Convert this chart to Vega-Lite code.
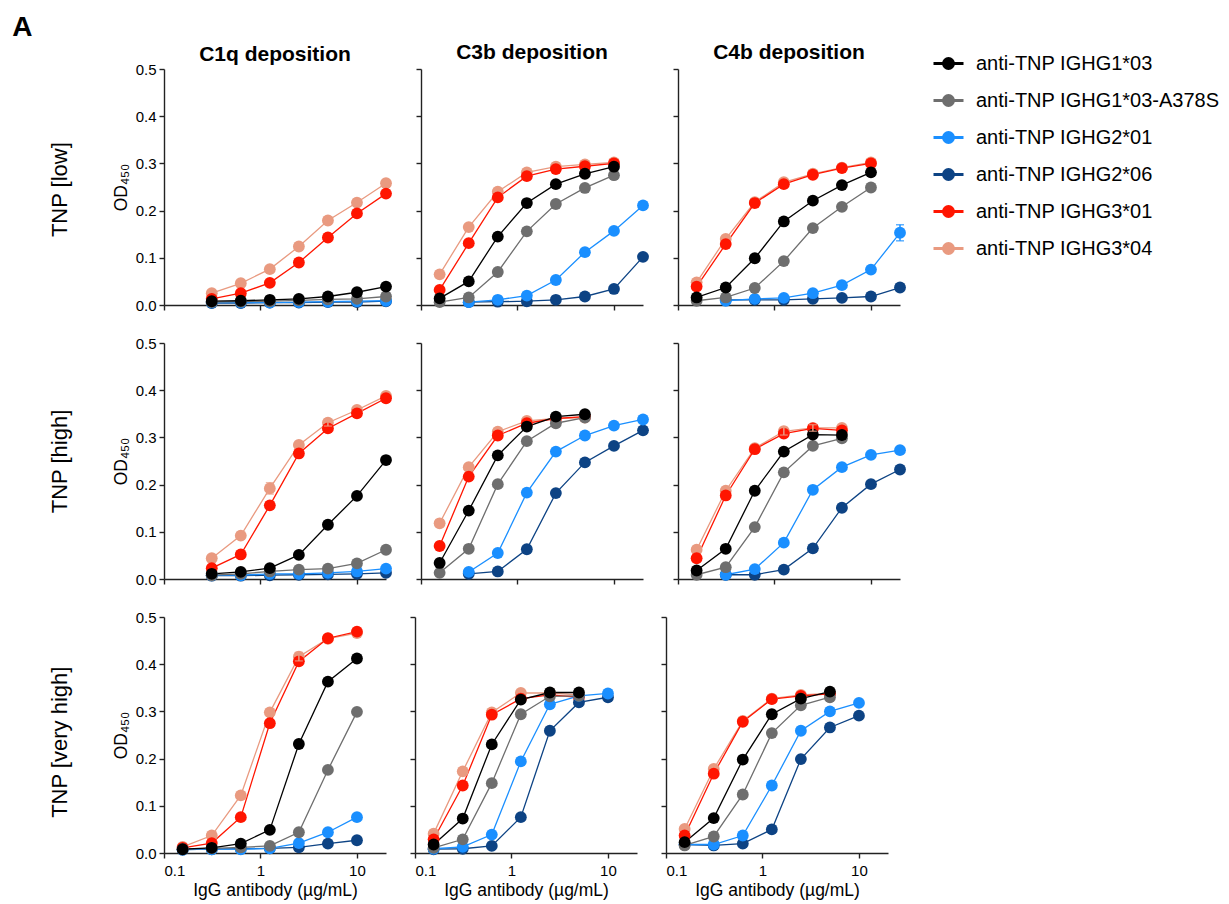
{
"$schema": "https://vega.github.io/schema/vega-lite/v6.json",
"padding": {"left": 12, "top": 14, "right": 5, "bottom": 5},
"title": {"text": "A", "anchor": "start", "frame": "bounds", "fontSize": 28, "fontWeight": "bold", "dx": -37, "offset": 0},
"config": {
  "font": "Liberation Sans",
  "view": {"stroke": null},
  "axis": {"grid": false, "domainColor": "#222222", "tickColor": "#222222", "domainWidth": 1.4, "tickWidth": 1.4, "tickSize": 5, "labelColor": "#000000", "titleColor": "#000000", "labelFontSize": 15, "titleFontSize": 17.5, "titleFontWeight": "normal", "labelPadding": 3},
  "legend": {"symbolType": "M-1,0H1M-0.33,0A0.33,0.33,0,1,1,0.33,0A0.33,0.33,0,1,1,-0.33,0Z", "symbolSize": 900, "symbolStrokeWidth": 3, "labelFontSize": 20, "labelColor": "#000000", "labelLimit": 400, "rowPadding": 9, "labelOffset": 11, "padding": 0}
},
"data": {"values": [
{"tnp":"low","assay":"C1q","antibody":"anti-TNP IGHG3*04","conc":0.3125,"od":0.025},
{"tnp":"low","assay":"C1q","antibody":"anti-TNP IGHG3*04","conc":0.625,"od":0.046},
{"tnp":"low","assay":"C1q","antibody":"anti-TNP IGHG3*04","conc":1.25,"od":0.076},
{"tnp":"low","assay":"C1q","antibody":"anti-TNP IGHG3*04","conc":2.5,"od":0.124},
{"tnp":"low","assay":"C1q","antibody":"anti-TNP IGHG3*04","conc":5,"od":0.179,"sd":0.008},
{"tnp":"low","assay":"C1q","antibody":"anti-TNP IGHG3*04","conc":10,"od":0.217,"sd":0.007},
{"tnp":"low","assay":"C1q","antibody":"anti-TNP IGHG3*04","conc":20,"od":0.258},
{"tnp":"low","assay":"C1q","antibody":"anti-TNP IGHG3*01","conc":0.3125,"od":0.013},
{"tnp":"low","assay":"C1q","antibody":"anti-TNP IGHG3*01","conc":0.625,"od":0.025},
{"tnp":"low","assay":"C1q","antibody":"anti-TNP IGHG3*01","conc":1.25,"od":0.047},
{"tnp":"low","assay":"C1q","antibody":"anti-TNP IGHG3*01","conc":2.5,"od":0.090},
{"tnp":"low","assay":"C1q","antibody":"anti-TNP IGHG3*01","conc":5,"od":0.143},
{"tnp":"low","assay":"C1q","antibody":"anti-TNP IGHG3*01","conc":10,"od":0.194},
{"tnp":"low","assay":"C1q","antibody":"anti-TNP IGHG3*01","conc":20,"od":0.236},
{"tnp":"low","assay":"C1q","antibody":"anti-TNP IGHG2*06","conc":0.3125,"od":0.004},
{"tnp":"low","assay":"C1q","antibody":"anti-TNP IGHG2*06","conc":0.625,"od":0.004},
{"tnp":"low","assay":"C1q","antibody":"anti-TNP IGHG2*06","conc":1.25,"od":0.005},
{"tnp":"low","assay":"C1q","antibody":"anti-TNP IGHG2*06","conc":2.5,"od":0.005},
{"tnp":"low","assay":"C1q","antibody":"anti-TNP IGHG2*06","conc":5,"od":0.006},
{"tnp":"low","assay":"C1q","antibody":"anti-TNP IGHG2*06","conc":10,"od":0.006},
{"tnp":"low","assay":"C1q","antibody":"anti-TNP IGHG2*06","conc":20,"od":0.008},
{"tnp":"low","assay":"C1q","antibody":"anti-TNP IGHG2*01","conc":0.3125,"od":0.005},
{"tnp":"low","assay":"C1q","antibody":"anti-TNP IGHG2*01","conc":0.625,"od":0.005},
{"tnp":"low","assay":"C1q","antibody":"anti-TNP IGHG2*01","conc":1.25,"od":0.005},
{"tnp":"low","assay":"C1q","antibody":"anti-TNP IGHG2*01","conc":2.5,"od":0.006},
{"tnp":"low","assay":"C1q","antibody":"anti-TNP IGHG2*01","conc":5,"od":0.007},
{"tnp":"low","assay":"C1q","antibody":"anti-TNP IGHG2*01","conc":10,"od":0.008},
{"tnp":"low","assay":"C1q","antibody":"anti-TNP IGHG2*01","conc":20,"od":0.009},
{"tnp":"low","assay":"C1q","antibody":"anti-TNP IGHG1*03-A378S","conc":0.3125,"od":0.006},
{"tnp":"low","assay":"C1q","antibody":"anti-TNP IGHG1*03-A378S","conc":0.625,"od":0.007},
{"tnp":"low","assay":"C1q","antibody":"anti-TNP IGHG1*03-A378S","conc":1.25,"od":0.008},
{"tnp":"low","assay":"C1q","antibody":"anti-TNP IGHG1*03-A378S","conc":2.5,"od":0.010},
{"tnp":"low","assay":"C1q","antibody":"anti-TNP IGHG1*03-A378S","conc":5,"od":0.012},
{"tnp":"low","assay":"C1q","antibody":"anti-TNP IGHG1*03-A378S","conc":10,"od":0.013},
{"tnp":"low","assay":"C1q","antibody":"anti-TNP IGHG1*03-A378S","conc":20,"od":0.018},
{"tnp":"low","assay":"C1q","antibody":"anti-TNP IGHG1*03","conc":0.3125,"od":0.008},
{"tnp":"low","assay":"C1q","antibody":"anti-TNP IGHG1*03","conc":0.625,"od":0.009},
{"tnp":"low","assay":"C1q","antibody":"anti-TNP IGHG1*03","conc":1.25,"od":0.011},
{"tnp":"low","assay":"C1q","antibody":"anti-TNP IGHG1*03","conc":2.5,"od":0.013},
{"tnp":"low","assay":"C1q","antibody":"anti-TNP IGHG1*03","conc":5,"od":0.018},
{"tnp":"low","assay":"C1q","antibody":"anti-TNP IGHG1*03","conc":10,"od":0.027},
{"tnp":"low","assay":"C1q","antibody":"anti-TNP IGHG1*03","conc":20,"od":0.039},

{"tnp":"low","assay":"C3b","antibody":"anti-TNP IGHG3*04","conc":0.156,"od":0.065},
{"tnp":"low","assay":"C3b","antibody":"anti-TNP IGHG3*04","conc":0.3125,"od":0.165},
{"tnp":"low","assay":"C3b","antibody":"anti-TNP IGHG3*04","conc":0.625,"od":0.240},
{"tnp":"low","assay":"C3b","antibody":"anti-TNP IGHG3*04","conc":1.25,"od":0.281},
{"tnp":"low","assay":"C3b","antibody":"anti-TNP IGHG3*04","conc":2.5,"od":0.293},
{"tnp":"low","assay":"C3b","antibody":"anti-TNP IGHG3*04","conc":5,"od":0.298},
{"tnp":"low","assay":"C3b","antibody":"anti-TNP IGHG3*04","conc":10,"od":0.302},
{"tnp":"low","assay":"C3b","antibody":"anti-TNP IGHG3*01","conc":0.156,"od":0.032},
{"tnp":"low","assay":"C3b","antibody":"anti-TNP IGHG3*01","conc":0.3125,"od":0.131},
{"tnp":"low","assay":"C3b","antibody":"anti-TNP IGHG3*01","conc":0.625,"od":0.228},
{"tnp":"low","assay":"C3b","antibody":"anti-TNP IGHG3*01","conc":1.25,"od":0.273},
{"tnp":"low","assay":"C3b","antibody":"anti-TNP IGHG3*01","conc":2.5,"od":0.288},
{"tnp":"low","assay":"C3b","antibody":"anti-TNP IGHG3*01","conc":5,"od":0.294},
{"tnp":"low","assay":"C3b","antibody":"anti-TNP IGHG3*01","conc":10,"od":0.300},
{"tnp":"low","assay":"C3b","antibody":"anti-TNP IGHG2*06","conc":0.3125,"od":0.006},
{"tnp":"low","assay":"C3b","antibody":"anti-TNP IGHG2*06","conc":0.625,"od":0.007},
{"tnp":"low","assay":"C3b","antibody":"anti-TNP IGHG2*06","conc":1.25,"od":0.008},
{"tnp":"low","assay":"C3b","antibody":"anti-TNP IGHG2*06","conc":2.5,"od":0.011},
{"tnp":"low","assay":"C3b","antibody":"anti-TNP IGHG2*06","conc":5,"od":0.018},
{"tnp":"low","assay":"C3b","antibody":"anti-TNP IGHG2*06","conc":10,"od":0.034},
{"tnp":"low","assay":"C3b","antibody":"anti-TNP IGHG2*06","conc":20,"od":0.102},
{"tnp":"low","assay":"C3b","antibody":"anti-TNP IGHG2*01","conc":0.3125,"od":0.006},
{"tnp":"low","assay":"C3b","antibody":"anti-TNP IGHG2*01","conc":0.625,"od":0.011},
{"tnp":"low","assay":"C3b","antibody":"anti-TNP IGHG2*01","conc":1.25,"od":0.020},
{"tnp":"low","assay":"C3b","antibody":"anti-TNP IGHG2*01","conc":2.5,"od":0.053},
{"tnp":"low","assay":"C3b","antibody":"anti-TNP IGHG2*01","conc":5,"od":0.112},
{"tnp":"low","assay":"C3b","antibody":"anti-TNP IGHG2*01","conc":10,"od":0.157},
{"tnp":"low","assay":"C3b","antibody":"anti-TNP IGHG2*01","conc":20,"od":0.211},
{"tnp":"low","assay":"C3b","antibody":"anti-TNP IGHG1*03-A378S","conc":0.156,"od":0.006},
{"tnp":"low","assay":"C3b","antibody":"anti-TNP IGHG1*03-A378S","conc":0.3125,"od":0.016},
{"tnp":"low","assay":"C3b","antibody":"anti-TNP IGHG1*03-A378S","conc":0.625,"od":0.070},
{"tnp":"low","assay":"C3b","antibody":"anti-TNP IGHG1*03-A378S","conc":1.25,"od":0.156},
{"tnp":"low","assay":"C3b","antibody":"anti-TNP IGHG1*03-A378S","conc":2.5,"od":0.214},
{"tnp":"low","assay":"C3b","antibody":"anti-TNP IGHG1*03-A378S","conc":5,"od":0.248},
{"tnp":"low","assay":"C3b","antibody":"anti-TNP IGHG1*03-A378S","conc":10,"od":0.275},
{"tnp":"low","assay":"C3b","antibody":"anti-TNP IGHG1*03","conc":0.156,"od":0.014},
{"tnp":"low","assay":"C3b","antibody":"anti-TNP IGHG1*03","conc":0.3125,"od":0.050},
{"tnp":"low","assay":"C3b","antibody":"anti-TNP IGHG1*03","conc":0.625,"od":0.145},
{"tnp":"low","assay":"C3b","antibody":"anti-TNP IGHG1*03","conc":1.25,"od":0.216},
{"tnp":"low","assay":"C3b","antibody":"anti-TNP IGHG1*03","conc":2.5,"od":0.256},
{"tnp":"low","assay":"C3b","antibody":"anti-TNP IGHG1*03","conc":5,"od":0.278},
{"tnp":"low","assay":"C3b","antibody":"anti-TNP IGHG1*03","conc":10,"od":0.293},

{"tnp":"low","assay":"C4b","antibody":"anti-TNP IGHG3*04","conc":0.156,"od":0.048},
{"tnp":"low","assay":"C4b","antibody":"anti-TNP IGHG3*04","conc":0.3125,"od":0.140},
{"tnp":"low","assay":"C4b","antibody":"anti-TNP IGHG3*04","conc":0.625,"od":0.218},
{"tnp":"low","assay":"C4b","antibody":"anti-TNP IGHG3*04","conc":1.25,"od":0.260},
{"tnp":"low","assay":"C4b","antibody":"anti-TNP IGHG3*04","conc":2.5,"od":0.278},
{"tnp":"low","assay":"C4b","antibody":"anti-TNP IGHG3*04","conc":5,"od":0.291},
{"tnp":"low","assay":"C4b","antibody":"anti-TNP IGHG3*04","conc":10,"od":0.302},
{"tnp":"low","assay":"C4b","antibody":"anti-TNP IGHG3*01","conc":0.156,"od":0.039},
{"tnp":"low","assay":"C4b","antibody":"anti-TNP IGHG3*01","conc":0.3125,"od":0.129},
{"tnp":"low","assay":"C4b","antibody":"anti-TNP IGHG3*01","conc":0.625,"od":0.216},
{"tnp":"low","assay":"C4b","antibody":"anti-TNP IGHG3*01","conc":1.25,"od":0.256},
{"tnp":"low","assay":"C4b","antibody":"anti-TNP IGHG3*01","conc":2.5,"od":0.276},
{"tnp":"low","assay":"C4b","antibody":"anti-TNP IGHG3*01","conc":5,"od":0.290},
{"tnp":"low","assay":"C4b","antibody":"anti-TNP IGHG3*01","conc":10,"od":0.300},
{"tnp":"low","assay":"C4b","antibody":"anti-TNP IGHG2*06","conc":0.3125,"od":0.011},
{"tnp":"low","assay":"C4b","antibody":"anti-TNP IGHG2*06","conc":0.625,"od":0.011},
{"tnp":"low","assay":"C4b","antibody":"anti-TNP IGHG2*06","conc":1.25,"od":0.011},
{"tnp":"low","assay":"C4b","antibody":"anti-TNP IGHG2*06","conc":2.5,"od":0.013},
{"tnp":"low","assay":"C4b","antibody":"anti-TNP IGHG2*06","conc":5,"od":0.015},
{"tnp":"low","assay":"C4b","antibody":"anti-TNP IGHG2*06","conc":10,"od":0.018},
{"tnp":"low","assay":"C4b","antibody":"anti-TNP IGHG2*06","conc":20,"od":0.037},
{"tnp":"low","assay":"C4b","antibody":"anti-TNP IGHG2*01","conc":0.3125,"od":0.009},
{"tnp":"low","assay":"C4b","antibody":"anti-TNP IGHG2*01","conc":0.625,"od":0.013},
{"tnp":"low","assay":"C4b","antibody":"anti-TNP IGHG2*01","conc":1.25,"od":0.015},
{"tnp":"low","assay":"C4b","antibody":"anti-TNP IGHG2*01","conc":2.5,"od":0.025},
{"tnp":"low","assay":"C4b","antibody":"anti-TNP IGHG2*01","conc":5,"od":0.042},
{"tnp":"low","assay":"C4b","antibody":"anti-TNP IGHG2*01","conc":10,"od":0.075},
{"tnp":"low","assay":"C4b","antibody":"anti-TNP IGHG2*01","conc":20,"od":0.153,"sd":0.017},
{"tnp":"low","assay":"C4b","antibody":"anti-TNP IGHG1*03-A378S","conc":0.156,"od":0.009},
{"tnp":"low","assay":"C4b","antibody":"anti-TNP IGHG1*03-A378S","conc":0.3125,"od":0.016},
{"tnp":"low","assay":"C4b","antibody":"anti-TNP IGHG1*03-A378S","conc":0.625,"od":0.036},
{"tnp":"low","assay":"C4b","antibody":"anti-TNP IGHG1*03-A378S","conc":1.25,"od":0.093},
{"tnp":"low","assay":"C4b","antibody":"anti-TNP IGHG1*03-A378S","conc":2.5,"od":0.163},
{"tnp":"low","assay":"C4b","antibody":"anti-TNP IGHG1*03-A378S","conc":5,"od":0.208},
{"tnp":"low","assay":"C4b","antibody":"anti-TNP IGHG1*03-A378S","conc":10,"od":0.249},
{"tnp":"low","assay":"C4b","antibody":"anti-TNP IGHG1*03","conc":0.156,"od":0.016},
{"tnp":"low","assay":"C4b","antibody":"anti-TNP IGHG1*03","conc":0.3125,"od":0.037},
{"tnp":"low","assay":"C4b","antibody":"anti-TNP IGHG1*03","conc":0.625,"od":0.099},
{"tnp":"low","assay":"C4b","antibody":"anti-TNP IGHG1*03","conc":1.25,"od":0.177},
{"tnp":"low","assay":"C4b","antibody":"anti-TNP IGHG1*03","conc":2.5,"od":0.221},
{"tnp":"low","assay":"C4b","antibody":"anti-TNP IGHG1*03","conc":5,"od":0.254},
{"tnp":"low","assay":"C4b","antibody":"anti-TNP IGHG1*03","conc":10,"od":0.281},

{"tnp":"high","assay":"C1q","antibody":"anti-TNP IGHG3*04","conc":0.3125,"od":0.044},
{"tnp":"high","assay":"C1q","antibody":"anti-TNP IGHG3*04","conc":0.625,"od":0.092},
{"tnp":"high","assay":"C1q","antibody":"anti-TNP IGHG3*04","conc":1.25,"od":0.192,"sd":0.012},
{"tnp":"high","assay":"C1q","antibody":"anti-TNP IGHG3*04","conc":2.5,"od":0.284},
{"tnp":"high","assay":"C1q","antibody":"anti-TNP IGHG3*04","conc":5,"od":0.331,"sd":0.007},
{"tnp":"high","assay":"C1q","antibody":"anti-TNP IGHG3*04","conc":10,"od":0.358},
{"tnp":"high","assay":"C1q","antibody":"anti-TNP IGHG3*04","conc":20,"od":0.388},
{"tnp":"high","assay":"C1q","antibody":"anti-TNP IGHG3*01","conc":0.3125,"od":0.023},
{"tnp":"high","assay":"C1q","antibody":"anti-TNP IGHG3*01","conc":0.625,"od":0.052},
{"tnp":"high","assay":"C1q","antibody":"anti-TNP IGHG3*01","conc":1.25,"od":0.156},
{"tnp":"high","assay":"C1q","antibody":"anti-TNP IGHG3*01","conc":2.5,"od":0.266},
{"tnp":"high","assay":"C1q","antibody":"anti-TNP IGHG3*01","conc":5,"od":0.319},
{"tnp":"high","assay":"C1q","antibody":"anti-TNP IGHG3*01","conc":10,"od":0.351},
{"tnp":"high","assay":"C1q","antibody":"anti-TNP IGHG3*01","conc":20,"od":0.383},
{"tnp":"high","assay":"C1q","antibody":"anti-TNP IGHG2*06","conc":0.3125,"od":0.007},
{"tnp":"high","assay":"C1q","antibody":"anti-TNP IGHG2*06","conc":0.625,"od":0.007},
{"tnp":"high","assay":"C1q","antibody":"anti-TNP IGHG2*06","conc":1.25,"od":0.008},
{"tnp":"high","assay":"C1q","antibody":"anti-TNP IGHG2*06","conc":2.5,"od":0.009},
{"tnp":"high","assay":"C1q","antibody":"anti-TNP IGHG2*06","conc":5,"od":0.010},
{"tnp":"high","assay":"C1q","antibody":"anti-TNP IGHG2*06","conc":10,"od":0.011},
{"tnp":"high","assay":"C1q","antibody":"anti-TNP IGHG2*06","conc":20,"od":0.013},
{"tnp":"high","assay":"C1q","antibody":"anti-TNP IGHG2*01","conc":0.3125,"od":0.008},
{"tnp":"high","assay":"C1q","antibody":"anti-TNP IGHG2*01","conc":0.625,"od":0.008},
{"tnp":"high","assay":"C1q","antibody":"anti-TNP IGHG2*01","conc":1.25,"od":0.011},
{"tnp":"high","assay":"C1q","antibody":"anti-TNP IGHG2*01","conc":2.5,"od":0.011},
{"tnp":"high","assay":"C1q","antibody":"anti-TNP IGHG2*01","conc":5,"od":0.013},
{"tnp":"high","assay":"C1q","antibody":"anti-TNP IGHG2*01","conc":10,"od":0.016},
{"tnp":"high","assay":"C1q","antibody":"anti-TNP IGHG2*01","conc":20,"od":0.022},
{"tnp":"high","assay":"C1q","antibody":"anti-TNP IGHG1*03-A378S","conc":0.3125,"od":0.008},
{"tnp":"high","assay":"C1q","antibody":"anti-TNP IGHG1*03-A378S","conc":0.625,"od":0.011},
{"tnp":"high","assay":"C1q","antibody":"anti-TNP IGHG1*03-A378S","conc":1.25,"od":0.016},
{"tnp":"high","assay":"C1q","antibody":"anti-TNP IGHG1*03-A378S","conc":2.5,"od":0.020},
{"tnp":"high","assay":"C1q","antibody":"anti-TNP IGHG1*03-A378S","conc":5,"od":0.022},
{"tnp":"high","assay":"C1q","antibody":"anti-TNP IGHG1*03-A378S","conc":10,"od":0.033},
{"tnp":"high","assay":"C1q","antibody":"anti-TNP IGHG1*03-A378S","conc":20,"od":0.062},
{"tnp":"high","assay":"C1q","antibody":"anti-TNP IGHG1*03","conc":0.3125,"od":0.011},
{"tnp":"high","assay":"C1q","antibody":"anti-TNP IGHG1*03","conc":0.625,"od":0.015},
{"tnp":"high","assay":"C1q","antibody":"anti-TNP IGHG1*03","conc":1.25,"od":0.023},
{"tnp":"high","assay":"C1q","antibody":"anti-TNP IGHG1*03","conc":2.5,"od":0.051},
{"tnp":"high","assay":"C1q","antibody":"anti-TNP IGHG1*03","conc":5,"od":0.115},
{"tnp":"high","assay":"C1q","antibody":"anti-TNP IGHG1*03","conc":10,"od":0.176},
{"tnp":"high","assay":"C1q","antibody":"anti-TNP IGHG1*03","conc":20,"od":0.252},

{"tnp":"high","assay":"C3b","antibody":"anti-TNP IGHG3*04","conc":0.156,"od":0.118},
{"tnp":"high","assay":"C3b","antibody":"anti-TNP IGHG3*04","conc":0.3125,"od":0.237},
{"tnp":"high","assay":"C3b","antibody":"anti-TNP IGHG3*04","conc":0.625,"od":0.312},
{"tnp":"high","assay":"C3b","antibody":"anti-TNP IGHG3*04","conc":1.25,"od":0.335},
{"tnp":"high","assay":"C3b","antibody":"anti-TNP IGHG3*04","conc":2.5,"od":0.340},
{"tnp":"high","assay":"C3b","antibody":"anti-TNP IGHG3*04","conc":5,"od":0.342},
{"tnp":"high","assay":"C3b","antibody":"anti-TNP IGHG3*01","conc":0.156,"od":0.070},
{"tnp":"high","assay":"C3b","antibody":"anti-TNP IGHG3*01","conc":0.3125,"od":0.217},
{"tnp":"high","assay":"C3b","antibody":"anti-TNP IGHG3*01","conc":0.625,"od":0.304},
{"tnp":"high","assay":"C3b","antibody":"anti-TNP IGHG3*01","conc":1.25,"od":0.330},
{"tnp":"high","assay":"C3b","antibody":"anti-TNP IGHG3*01","conc":2.5,"od":0.340},
{"tnp":"high","assay":"C3b","antibody":"anti-TNP IGHG3*01","conc":5,"od":0.344},
{"tnp":"high","assay":"C3b","antibody":"anti-TNP IGHG2*06","conc":0.3125,"od":0.011},
{"tnp":"high","assay":"C3b","antibody":"anti-TNP IGHG2*06","conc":0.625,"od":0.016},
{"tnp":"high","assay":"C3b","antibody":"anti-TNP IGHG2*06","conc":1.25,"od":0.063},
{"tnp":"high","assay":"C3b","antibody":"anti-TNP IGHG2*06","conc":2.5,"od":0.182},
{"tnp":"high","assay":"C3b","antibody":"anti-TNP IGHG2*06","conc":5,"od":0.247},
{"tnp":"high","assay":"C3b","antibody":"anti-TNP IGHG2*06","conc":10,"od":0.282},
{"tnp":"high","assay":"C3b","antibody":"anti-TNP IGHG2*06","conc":20,"od":0.315},
{"tnp":"high","assay":"C3b","antibody":"anti-TNP IGHG2*01","conc":0.3125,"od":0.015},
{"tnp":"high","assay":"C3b","antibody":"anti-TNP IGHG2*01","conc":0.625,"od":0.055},
{"tnp":"high","assay":"C3b","antibody":"anti-TNP IGHG2*01","conc":1.25,"od":0.183},
{"tnp":"high","assay":"C3b","antibody":"anti-TNP IGHG2*01","conc":2.5,"od":0.270},
{"tnp":"high","assay":"C3b","antibody":"anti-TNP IGHG2*01","conc":5,"od":0.304},
{"tnp":"high","assay":"C3b","antibody":"anti-TNP IGHG2*01","conc":10,"od":0.325},
{"tnp":"high","assay":"C3b","antibody":"anti-TNP IGHG2*01","conc":20,"od":0.338},
{"tnp":"high","assay":"C3b","antibody":"anti-TNP IGHG1*03-A378S","conc":0.156,"od":0.013},
{"tnp":"high","assay":"C3b","antibody":"anti-TNP IGHG1*03-A378S","conc":0.3125,"od":0.064},
{"tnp":"high","assay":"C3b","antibody":"anti-TNP IGHG1*03-A378S","conc":0.625,"od":0.201},
{"tnp":"high","assay":"C3b","antibody":"anti-TNP IGHG1*03-A378S","conc":1.25,"od":0.292},
{"tnp":"high","assay":"C3b","antibody":"anti-TNP IGHG1*03-A378S","conc":2.5,"od":0.330},
{"tnp":"high","assay":"C3b","antibody":"anti-TNP IGHG1*03-A378S","conc":5,"od":0.342},
{"tnp":"high","assay":"C3b","antibody":"anti-TNP IGHG1*03","conc":0.156,"od":0.034},
{"tnp":"high","assay":"C3b","antibody":"anti-TNP IGHG1*03","conc":0.3125,"od":0.145},
{"tnp":"high","assay":"C3b","antibody":"anti-TNP IGHG1*03","conc":0.625,"od":0.262},
{"tnp":"high","assay":"C3b","antibody":"anti-TNP IGHG1*03","conc":1.25,"od":0.323},
{"tnp":"high","assay":"C3b","antibody":"anti-TNP IGHG1*03","conc":2.5,"od":0.344},
{"tnp":"high","assay":"C3b","antibody":"anti-TNP IGHG1*03","conc":5,"od":0.349},

{"tnp":"high","assay":"C4b","antibody":"anti-TNP IGHG3*04","conc":0.156,"od":0.062},
{"tnp":"high","assay":"C4b","antibody":"anti-TNP IGHG3*04","conc":0.3125,"od":0.187},
{"tnp":"high","assay":"C4b","antibody":"anti-TNP IGHG3*04","conc":0.625,"od":0.277},
{"tnp":"high","assay":"C4b","antibody":"anti-TNP IGHG3*04","conc":1.25,"od":0.313,"sd":0.008},
{"tnp":"high","assay":"C4b","antibody":"anti-TNP IGHG3*04","conc":2.5,"od":0.320,"sd":0.007},
{"tnp":"high","assay":"C4b","antibody":"anti-TNP IGHG3*04","conc":5,"od":0.320},
{"tnp":"high","assay":"C4b","antibody":"anti-TNP IGHG3*01","conc":0.156,"od":0.044},
{"tnp":"high","assay":"C4b","antibody":"anti-TNP IGHG3*01","conc":0.3125,"od":0.177},
{"tnp":"high","assay":"C4b","antibody":"anti-TNP IGHG3*01","conc":0.625,"od":0.275},
{"tnp":"high","assay":"C4b","antibody":"anti-TNP IGHG3*01","conc":1.25,"od":0.308},
{"tnp":"high","assay":"C4b","antibody":"anti-TNP IGHG3*01","conc":2.5,"od":0.319},
{"tnp":"high","assay":"C4b","antibody":"anti-TNP IGHG3*01","conc":5,"od":0.315},
{"tnp":"high","assay":"C4b","antibody":"anti-TNP IGHG2*06","conc":0.3125,"od":0.009},
{"tnp":"high","assay":"C4b","antibody":"anti-TNP IGHG2*06","conc":0.625,"od":0.009},
{"tnp":"high","assay":"C4b","antibody":"anti-TNP IGHG2*06","conc":1.25,"od":0.020},
{"tnp":"high","assay":"C4b","antibody":"anti-TNP IGHG2*06","conc":2.5,"od":0.065},
{"tnp":"high","assay":"C4b","antibody":"anti-TNP IGHG2*06","conc":5,"od":0.151},
{"tnp":"high","assay":"C4b","antibody":"anti-TNP IGHG2*06","conc":10,"od":0.201},
{"tnp":"high","assay":"C4b","antibody":"anti-TNP IGHG2*06","conc":20,"od":0.232},
{"tnp":"high","assay":"C4b","antibody":"anti-TNP IGHG2*01","conc":0.3125,"od":0.009},
{"tnp":"high","assay":"C4b","antibody":"anti-TNP IGHG2*01","conc":0.625,"od":0.021},
{"tnp":"high","assay":"C4b","antibody":"anti-TNP IGHG2*01","conc":1.25,"od":0.077},
{"tnp":"high","assay":"C4b","antibody":"anti-TNP IGHG2*01","conc":2.5,"od":0.189},
{"tnp":"high","assay":"C4b","antibody":"anti-TNP IGHG2*01","conc":5,"od":0.237},
{"tnp":"high","assay":"C4b","antibody":"anti-TNP IGHG2*01","conc":10,"od":0.263},
{"tnp":"high","assay":"C4b","antibody":"anti-TNP IGHG2*01","conc":20,"od":0.273},
{"tnp":"high","assay":"C4b","antibody":"anti-TNP IGHG1*03-A378S","conc":0.156,"od":0.009},
{"tnp":"high","assay":"C4b","antibody":"anti-TNP IGHG1*03-A378S","conc":0.3125,"od":0.025},
{"tnp":"high","assay":"C4b","antibody":"anti-TNP IGHG1*03-A378S","conc":0.625,"od":0.110},
{"tnp":"high","assay":"C4b","antibody":"anti-TNP IGHG1*03-A378S","conc":1.25,"od":0.226},
{"tnp":"high","assay":"C4b","antibody":"anti-TNP IGHG1*03-A378S","conc":2.5,"od":0.282},
{"tnp":"high","assay":"C4b","antibody":"anti-TNP IGHG1*03-A378S","conc":5,"od":0.298},
{"tnp":"high","assay":"C4b","antibody":"anti-TNP IGHG1*03","conc":0.156,"od":0.018},
{"tnp":"high","assay":"C4b","antibody":"anti-TNP IGHG1*03","conc":0.3125,"od":0.064},
{"tnp":"high","assay":"C4b","antibody":"anti-TNP IGHG1*03","conc":0.625,"od":0.187},
{"tnp":"high","assay":"C4b","antibody":"anti-TNP IGHG1*03","conc":1.25,"od":0.270},
{"tnp":"high","assay":"C4b","antibody":"anti-TNP IGHG1*03","conc":2.5,"od":0.306},
{"tnp":"high","assay":"C4b","antibody":"anti-TNP IGHG1*03","conc":5,"od":0.305},

{"tnp":"very high","assay":"C1q","antibody":"anti-TNP IGHG3*04","conc":0.156,"od":0.013},
{"tnp":"very high","assay":"C1q","antibody":"anti-TNP IGHG3*04","conc":0.3125,"od":0.037},
{"tnp":"very high","assay":"C1q","antibody":"anti-TNP IGHG3*04","conc":0.625,"od":0.122},
{"tnp":"very high","assay":"C1q","antibody":"anti-TNP IGHG3*04","conc":1.25,"od":0.298},
{"tnp":"very high","assay":"C1q","antibody":"anti-TNP IGHG3*04","conc":2.5,"od":0.416,"sd":0.009},
{"tnp":"very high","assay":"C1q","antibody":"anti-TNP IGHG3*04","conc":5,"od":0.454},
{"tnp":"very high","assay":"C1q","antibody":"anti-TNP IGHG3*04","conc":10,"od":0.466},
{"tnp":"very high","assay":"C1q","antibody":"anti-TNP IGHG3*01","conc":0.156,"od":0.011},
{"tnp":"very high","assay":"C1q","antibody":"anti-TNP IGHG3*01","conc":0.3125,"od":0.021},
{"tnp":"very high","assay":"C1q","antibody":"anti-TNP IGHG3*01","conc":0.625,"od":0.076},
{"tnp":"very high","assay":"C1q","antibody":"anti-TNP IGHG3*01","conc":1.25,"od":0.275},
{"tnp":"very high","assay":"C1q","antibody":"anti-TNP IGHG3*01","conc":2.5,"od":0.406},
{"tnp":"very high","assay":"C1q","antibody":"anti-TNP IGHG3*01","conc":5,"od":0.455},
{"tnp":"very high","assay":"C1q","antibody":"anti-TNP IGHG3*01","conc":10,"od":0.469},
{"tnp":"very high","assay":"C1q","antibody":"anti-TNP IGHG2*06","conc":0.156,"od":0.007},
{"tnp":"very high","assay":"C1q","antibody":"anti-TNP IGHG2*06","conc":0.3125,"od":0.008},
{"tnp":"very high","assay":"C1q","antibody":"anti-TNP IGHG2*06","conc":0.625,"od":0.009},
{"tnp":"very high","assay":"C1q","antibody":"anti-TNP IGHG2*06","conc":1.25,"od":0.010},
{"tnp":"very high","assay":"C1q","antibody":"anti-TNP IGHG2*06","conc":2.5,"od":0.012},
{"tnp":"very high","assay":"C1q","antibody":"anti-TNP IGHG2*06","conc":5,"od":0.020},
{"tnp":"very high","assay":"C1q","antibody":"anti-TNP IGHG2*06","conc":10,"od":0.027},
{"tnp":"very high","assay":"C1q","antibody":"anti-TNP IGHG2*01","conc":0.156,"od":0.007},
{"tnp":"very high","assay":"C1q","antibody":"anti-TNP IGHG2*01","conc":0.3125,"od":0.008},
{"tnp":"very high","assay":"C1q","antibody":"anti-TNP IGHG2*01","conc":0.625,"od":0.008},
{"tnp":"very high","assay":"C1q","antibody":"anti-TNP IGHG2*01","conc":1.25,"od":0.010},
{"tnp":"very high","assay":"C1q","antibody":"anti-TNP IGHG2*01","conc":2.5,"od":0.021},
{"tnp":"very high","assay":"C1q","antibody":"anti-TNP IGHG2*01","conc":5,"od":0.044},
{"tnp":"very high","assay":"C1q","antibody":"anti-TNP IGHG2*01","conc":10,"od":0.076},
{"tnp":"very high","assay":"C1q","antibody":"anti-TNP IGHG1*03-A378S","conc":0.156,"od":0.008},
{"tnp":"very high","assay":"C1q","antibody":"anti-TNP IGHG1*03-A378S","conc":0.3125,"od":0.010},
{"tnp":"very high","assay":"C1q","antibody":"anti-TNP IGHG1*03-A378S","conc":0.625,"od":0.012},
{"tnp":"very high","assay":"C1q","antibody":"anti-TNP IGHG1*03-A378S","conc":1.25,"od":0.015},
{"tnp":"very high","assay":"C1q","antibody":"anti-TNP IGHG1*03-A378S","conc":2.5,"od":0.044},
{"tnp":"very high","assay":"C1q","antibody":"anti-TNP IGHG1*03-A378S","conc":5,"od":0.176},
{"tnp":"very high","assay":"C1q","antibody":"anti-TNP IGHG1*03-A378S","conc":10,"od":0.299},
{"tnp":"very high","assay":"C1q","antibody":"anti-TNP IGHG1*03","conc":0.156,"od":0.008},
{"tnp":"very high","assay":"C1q","antibody":"anti-TNP IGHG1*03","conc":0.3125,"od":0.011},
{"tnp":"very high","assay":"C1q","antibody":"anti-TNP IGHG1*03","conc":0.625,"od":0.020},
{"tnp":"very high","assay":"C1q","antibody":"anti-TNP IGHG1*03","conc":1.25,"od":0.049},
{"tnp":"very high","assay":"C1q","antibody":"anti-TNP IGHG1*03","conc":2.5,"od":0.231},
{"tnp":"very high","assay":"C1q","antibody":"anti-TNP IGHG1*03","conc":5,"od":0.363},
{"tnp":"very high","assay":"C1q","antibody":"anti-TNP IGHG1*03","conc":10,"od":0.412},

{"tnp":"very high","assay":"C3b","antibody":"anti-TNP IGHG3*04","conc":0.156,"od":0.041},
{"tnp":"very high","assay":"C3b","antibody":"anti-TNP IGHG3*04","conc":0.3125,"od":0.173},
{"tnp":"very high","assay":"C3b","antibody":"anti-TNP IGHG3*04","conc":0.625,"od":0.298},
{"tnp":"very high","assay":"C3b","antibody":"anti-TNP IGHG3*04","conc":1.25,"od":0.339},
{"tnp":"very high","assay":"C3b","antibody":"anti-TNP IGHG3*04","conc":2.5,"od":0.339},
{"tnp":"very high","assay":"C3b","antibody":"anti-TNP IGHG3*04","conc":5,"od":0.335},
{"tnp":"very high","assay":"C3b","antibody":"anti-TNP IGHG3*01","conc":0.156,"od":0.029},
{"tnp":"very high","assay":"C3b","antibody":"anti-TNP IGHG3*01","conc":0.3125,"od":0.143},
{"tnp":"very high","assay":"C3b","antibody":"anti-TNP IGHG3*01","conc":0.625,"od":0.293},
{"tnp":"very high","assay":"C3b","antibody":"anti-TNP IGHG3*01","conc":1.25,"od":0.327},
{"tnp":"very high","assay":"C3b","antibody":"anti-TNP IGHG3*01","conc":2.5,"od":0.335},
{"tnp":"very high","assay":"C3b","antibody":"anti-TNP IGHG3*01","conc":5,"od":0.330},
{"tnp":"very high","assay":"C3b","antibody":"anti-TNP IGHG2*06","conc":0.156,"od":0.008},
{"tnp":"very high","assay":"C3b","antibody":"anti-TNP IGHG2*06","conc":0.3125,"od":0.009},
{"tnp":"very high","assay":"C3b","antibody":"anti-TNP IGHG2*06","conc":0.625,"od":0.015},
{"tnp":"very high","assay":"C3b","antibody":"anti-TNP IGHG2*06","conc":1.25,"od":0.076},
{"tnp":"very high","assay":"C3b","antibody":"anti-TNP IGHG2*06","conc":2.5,"od":0.259},
{"tnp":"very high","assay":"C3b","antibody":"anti-TNP IGHG2*06","conc":5,"od":0.319},
{"tnp":"very high","assay":"C3b","antibody":"anti-TNP IGHG2*06","conc":10,"od":0.330},
{"tnp":"very high","assay":"C3b","antibody":"anti-TNP IGHG2*01","conc":0.156,"od":0.009},
{"tnp":"very high","assay":"C3b","antibody":"anti-TNP IGHG2*01","conc":0.3125,"od":0.013},
{"tnp":"very high","assay":"C3b","antibody":"anti-TNP IGHG2*01","conc":0.625,"od":0.039},
{"tnp":"very high","assay":"C3b","antibody":"anti-TNP IGHG2*01","conc":1.25,"od":0.194},
{"tnp":"very high","assay":"C3b","antibody":"anti-TNP IGHG2*01","conc":2.5,"od":0.315},
{"tnp":"very high","assay":"C3b","antibody":"anti-TNP IGHG2*01","conc":5,"od":0.333},
{"tnp":"very high","assay":"C3b","antibody":"anti-TNP IGHG2*01","conc":10,"od":0.338},
{"tnp":"very high","assay":"C3b","antibody":"anti-TNP IGHG1*03-A378S","conc":0.156,"od":0.011},
{"tnp":"very high","assay":"C3b","antibody":"anti-TNP IGHG1*03-A378S","conc":0.3125,"od":0.029},
{"tnp":"very high","assay":"C3b","antibody":"anti-TNP IGHG1*03-A378S","conc":0.625,"od":0.148},
{"tnp":"very high","assay":"C3b","antibody":"anti-TNP IGHG1*03-A378S","conc":1.25,"od":0.294},
{"tnp":"very high","assay":"C3b","antibody":"anti-TNP IGHG1*03-A378S","conc":2.5,"od":0.332},
{"tnp":"very high","assay":"C3b","antibody":"anti-TNP IGHG1*03-A378S","conc":5,"od":0.333},
{"tnp":"very high","assay":"C3b","antibody":"anti-TNP IGHG1*03","conc":0.156,"od":0.018},
{"tnp":"very high","assay":"C3b","antibody":"anti-TNP IGHG1*03","conc":0.3125,"od":0.073},
{"tnp":"very high","assay":"C3b","antibody":"anti-TNP IGHG1*03","conc":0.625,"od":0.230},
{"tnp":"very high","assay":"C3b","antibody":"anti-TNP IGHG1*03","conc":1.25,"od":0.325},
{"tnp":"very high","assay":"C3b","antibody":"anti-TNP IGHG1*03","conc":2.5,"od":0.340},
{"tnp":"very high","assay":"C3b","antibody":"anti-TNP IGHG1*03","conc":5,"od":0.340},

{"tnp":"very high","assay":"C4b","antibody":"anti-TNP IGHG3*04","conc":0.156,"od":0.051},
{"tnp":"very high","assay":"C4b","antibody":"anti-TNP IGHG3*04","conc":0.3125,"od":0.178},
{"tnp":"very high","assay":"C4b","antibody":"anti-TNP IGHG3*04","conc":0.625,"od":0.280},
{"tnp":"very high","assay":"C4b","antibody":"anti-TNP IGHG3*04","conc":1.25,"od":0.327},
{"tnp":"very high","assay":"C4b","antibody":"anti-TNP IGHG3*04","conc":2.5,"od":0.335},
{"tnp":"very high","assay":"C4b","antibody":"anti-TNP IGHG3*04","conc":5,"od":0.338},
{"tnp":"very high","assay":"C4b","antibody":"anti-TNP IGHG3*01","conc":0.156,"od":0.037},
{"tnp":"very high","assay":"C4b","antibody":"anti-TNP IGHG3*01","conc":0.3125,"od":0.168},
{"tnp":"very high","assay":"C4b","antibody":"anti-TNP IGHG3*01","conc":0.625,"od":0.278},
{"tnp":"very high","assay":"C4b","antibody":"anti-TNP IGHG3*01","conc":1.25,"od":0.326},
{"tnp":"very high","assay":"C4b","antibody":"anti-TNP IGHG3*01","conc":2.5,"od":0.333},
{"tnp":"very high","assay":"C4b","antibody":"anti-TNP IGHG3*01","conc":5,"od":0.337},
{"tnp":"very high","assay":"C4b","antibody":"anti-TNP IGHG2*06","conc":0.156,"od":0.018},
{"tnp":"very high","assay":"C4b","antibody":"anti-TNP IGHG2*06","conc":0.3125,"od":0.016},
{"tnp":"very high","assay":"C4b","antibody":"anti-TNP IGHG2*06","conc":0.625,"od":0.020},
{"tnp":"very high","assay":"C4b","antibody":"anti-TNP IGHG2*06","conc":1.25,"od":0.050},
{"tnp":"very high","assay":"C4b","antibody":"anti-TNP IGHG2*06","conc":2.5,"od":0.199},
{"tnp":"very high","assay":"C4b","antibody":"anti-TNP IGHG2*06","conc":5,"od":0.266},
{"tnp":"very high","assay":"C4b","antibody":"anti-TNP IGHG2*06","conc":10,"od":0.291},
{"tnp":"very high","assay":"C4b","antibody":"anti-TNP IGHG2*01","conc":0.156,"od":0.018},
{"tnp":"very high","assay":"C4b","antibody":"anti-TNP IGHG2*01","conc":0.3125,"od":0.018},
{"tnp":"very high","assay":"C4b","antibody":"anti-TNP IGHG2*01","conc":0.625,"od":0.037},
{"tnp":"very high","assay":"C4b","antibody":"anti-TNP IGHG2*01","conc":1.25,"od":0.143},
{"tnp":"very high","assay":"C4b","antibody":"anti-TNP IGHG2*01","conc":2.5,"od":0.259},
{"tnp":"very high","assay":"C4b","antibody":"anti-TNP IGHG2*01","conc":5,"od":0.300},
{"tnp":"very high","assay":"C4b","antibody":"anti-TNP IGHG2*01","conc":10,"od":0.318},
{"tnp":"very high","assay":"C4b","antibody":"anti-TNP IGHG1*03-A378S","conc":0.156,"od":0.016},
{"tnp":"very high","assay":"C4b","antibody":"anti-TNP IGHG1*03-A378S","conc":0.3125,"od":0.035},
{"tnp":"very high","assay":"C4b","antibody":"anti-TNP IGHG1*03-A378S","conc":0.625,"od":0.124},
{"tnp":"very high","assay":"C4b","antibody":"anti-TNP IGHG1*03-A378S","conc":1.25,"od":0.254},
{"tnp":"very high","assay":"C4b","antibody":"anti-TNP IGHG1*03-A378S","conc":2.5,"od":0.313},
{"tnp":"very high","assay":"C4b","antibody":"anti-TNP IGHG1*03-A378S","conc":5,"od":0.330},
{"tnp":"very high","assay":"C4b","antibody":"anti-TNP IGHG1*03","conc":0.156,"od":0.023},
{"tnp":"very high","assay":"C4b","antibody":"anti-TNP IGHG1*03","conc":0.3125,"od":0.074},
{"tnp":"very high","assay":"C4b","antibody":"anti-TNP IGHG1*03","conc":0.625,"od":0.198},
{"tnp":"very high","assay":"C4b","antibody":"anti-TNP IGHG1*03","conc":1.25,"od":0.294},
{"tnp":"very high","assay":"C4b","antibody":"anti-TNP IGHG1*03","conc":2.5,"od":0.327},
{"tnp":"very high","assay":"C4b","antibody":"anti-TNP IGHG1*03","conc":5,"od":0.342}
]},
"spacing": 23,
"vconcat": [
 {"title": {"text": "TNP [low]", "orient": "left", "anchor": "middle", "fontSize": 22, "fontWeight": "normal", "offset": 40, "dx": -12},
  "spacing": 23,
  "hconcat": [
   {"title": {"text": "C1q deposition", "frame": "group", "fontSize": 21, "fontWeight": "bold", "offset": -3},
    "width": 222, "height": 236,
    "transform": [{"filter": "datum.tnp === 'low' && datum.assay === 'C1q'"}],
    "encoding": {
      "x": {"field": "conc", "type": "quantitative", "scale": {"type": "log", "domain": [0.1, 20]}, "axis": {"values": [0.1, 1, 10], "labels": false, "title": null}},
      "y": {"field": "od", "type": "quantitative", "scale": {"domain": [0, 0.5]}, "axis": {"values": [0, 0.1, 0.2, 0.3, 0.4, 0.5], "format": ".1f", "title": "OD₄₅₀", "titlePadding": 5}},
      "color": {"field": "antibody", "type": "nominal", "scale": {"domain": ["anti-TNP IGHG1*03", "anti-TNP IGHG1*03-A378S", "anti-TNP IGHG2*01", "anti-TNP IGHG2*06", "anti-TNP IGHG3*01", "anti-TNP IGHG3*04"], "range": ["#000000", "#6e6e6e", "#1a8fff", "#0d4384", "#ff1500", "#e99a80"]}, "legend": {"title": null, "orient": "none", "legendX": 768, "legendY": -22, "encode": {"symbols": {"update": {"fill": {"scale": "color", "field": "value"}, "stroke": {"scale": "color", "field": "value"}, "opacity": {"value": 1}}}}}}
    },
    "layer": [
      {"mark": {"type": "line", "strokeWidth": 1.3}},
      {"mark": {"type": "point", "filled": true, "size": 140, "opacity": 1}},
      {"transform": [{"filter": "datum.sd > 0"}], "mark": {"type": "errorbar", "ticks": {"size": 8}, "thickness": 1.5}, "encoding": {"yError": {"field": "sd"}}}
    ]
   },
   {"title": {"text": "C3b deposition", "frame": "group", "fontSize": 21, "fontWeight": "bold", "offset": 5},
    "width": 222, "height": 236,
    "transform": [{"filter": "datum.tnp === 'low' && datum.assay === 'C3b'"}],
    "encoding": {
      "x": {"field": "conc", "type": "quantitative", "scale": {"type": "log", "domain": [0.1, 20]}, "axis": {"values": [0.1, 1, 10], "labels": false, "title": null}},
      "y": {"field": "od", "type": "quantitative", "scale": {"domain": [0, 0.5]}, "axis": {"values": [0, 0.1, 0.2, 0.3, 0.4, 0.5], "labels": false, "title": null}},
      "color": {"field": "antibody", "type": "nominal", "scale": {"domain": ["anti-TNP IGHG1*03", "anti-TNP IGHG1*03-A378S", "anti-TNP IGHG2*01", "anti-TNP IGHG2*06", "anti-TNP IGHG3*01", "anti-TNP IGHG3*04"], "range": ["#000000", "#6e6e6e", "#1a8fff", "#0d4384", "#ff1500", "#e99a80"]}, "legend": {"title": null, "orient": "none", "legendX": 768, "legendY": -22, "encode": {"symbols": {"update": {"fill": {"scale": "color", "field": "value"}, "stroke": {"scale": "color", "field": "value"}, "opacity": {"value": 1}}}}}}
    },
    "layer": [
      {"mark": {"type": "line", "strokeWidth": 1.3}},
      {"mark": {"type": "point", "filled": true, "size": 140, "opacity": 1}},
      {"transform": [{"filter": "datum.sd > 0"}], "mark": {"type": "errorbar", "ticks": {"size": 8}, "thickness": 1.5}, "encoding": {"yError": {"field": "sd"}}}
    ]
   },
   {"title": {"text": "C4b deposition", "frame": "group", "fontSize": 21, "fontWeight": "bold", "offset": 5},
    "width": 222, "height": 236,
    "transform": [{"filter": "datum.tnp === 'low' && datum.assay === 'C4b'"}],
    "encoding": {
      "x": {"field": "conc", "type": "quantitative", "scale": {"type": "log", "domain": [0.1, 20]}, "axis": {"values": [0.1, 1, 10], "labels": false, "title": null}},
      "y": {"field": "od", "type": "quantitative", "scale": {"domain": [0, 0.5]}, "axis": {"values": [0, 0.1, 0.2, 0.3, 0.4, 0.5], "labels": false, "title": null}},
      "color": {"field": "antibody", "type": "nominal", "scale": {"domain": ["anti-TNP IGHG1*03", "anti-TNP IGHG1*03-A378S", "anti-TNP IGHG2*01", "anti-TNP IGHG2*06", "anti-TNP IGHG3*01", "anti-TNP IGHG3*04"], "range": ["#000000", "#6e6e6e", "#1a8fff", "#0d4384", "#ff1500", "#e99a80"]}, "legend": {"title": null, "orient": "none", "legendX": 768, "legendY": -22, "encode": {"symbols": {"update": {"fill": {"scale": "color", "field": "value"}, "stroke": {"scale": "color", "field": "value"}, "opacity": {"value": 1}}}}}}
    },
    "layer": [
      {"mark": {"type": "line", "strokeWidth": 1.3}},
      {"mark": {"type": "point", "filled": true, "size": 140, "opacity": 1}},
      {"transform": [{"filter": "datum.sd > 0"}], "mark": {"type": "errorbar", "ticks": {"size": 8}, "thickness": 1.5}, "encoding": {"yError": {"field": "sd"}}}
    ]
   }
  ]
 },
 {"title": {"text": "TNP [high]", "orient": "left", "anchor": "middle", "fontSize": 22, "fontWeight": "normal", "offset": 40},
  "spacing": 23,
  "hconcat": [
   {"width": 222, "height": 236,
    "transform": [{"filter": "datum.tnp === 'high' && datum.assay === 'C1q'"}],
    "encoding": {
      "x": {"field": "conc", "type": "quantitative", "scale": {"type": "log", "domain": [0.1, 20]}, "axis": {"values": [0.1, 1, 10], "labels": false, "title": null}},
      "y": {"field": "od", "type": "quantitative", "scale": {"domain": [0, 0.5]}, "axis": {"values": [0, 0.1, 0.2, 0.3, 0.4, 0.5], "format": ".1f", "title": "OD₄₅₀", "titlePadding": 5}},
      "color": {"field": "antibody", "type": "nominal", "scale": {"domain": ["anti-TNP IGHG1*03", "anti-TNP IGHG1*03-A378S", "anti-TNP IGHG2*01", "anti-TNP IGHG2*06", "anti-TNP IGHG3*01", "anti-TNP IGHG3*04"], "range": ["#000000", "#6e6e6e", "#1a8fff", "#0d4384", "#ff1500", "#e99a80"]}, "legend": {"title": null, "orient": "none", "legendX": 768, "legendY": -22, "encode": {"symbols": {"update": {"fill": {"scale": "color", "field": "value"}, "stroke": {"scale": "color", "field": "value"}, "opacity": {"value": 1}}}}}}
    },
    "layer": [
      {"mark": {"type": "line", "strokeWidth": 1.3}},
      {"mark": {"type": "point", "filled": true, "size": 140, "opacity": 1}},
      {"transform": [{"filter": "datum.sd > 0"}], "mark": {"type": "errorbar", "ticks": {"size": 8}, "thickness": 1.5}, "encoding": {"yError": {"field": "sd"}}}
    ]
   },
   {"width": 222, "height": 236,
    "transform": [{"filter": "datum.tnp === 'high' && datum.assay === 'C3b'"}],
    "encoding": {
      "x": {"field": "conc", "type": "quantitative", "scale": {"type": "log", "domain": [0.1, 20]}, "axis": {"values": [0.1, 1, 10], "labels": false, "title": null}},
      "y": {"field": "od", "type": "quantitative", "scale": {"domain": [0, 0.5]}, "axis": {"values": [0, 0.1, 0.2, 0.3, 0.4, 0.5], "labels": false, "title": null}},
      "color": {"field": "antibody", "type": "nominal", "scale": {"domain": ["anti-TNP IGHG1*03", "anti-TNP IGHG1*03-A378S", "anti-TNP IGHG2*01", "anti-TNP IGHG2*06", "anti-TNP IGHG3*01", "anti-TNP IGHG3*04"], "range": ["#000000", "#6e6e6e", "#1a8fff", "#0d4384", "#ff1500", "#e99a80"]}, "legend": {"title": null, "orient": "none", "legendX": 768, "legendY": -22, "encode": {"symbols": {"update": {"fill": {"scale": "color", "field": "value"}, "stroke": {"scale": "color", "field": "value"}, "opacity": {"value": 1}}}}}}
    },
    "layer": [
      {"mark": {"type": "line", "strokeWidth": 1.3}},
      {"mark": {"type": "point", "filled": true, "size": 140, "opacity": 1}},
      {"transform": [{"filter": "datum.sd > 0"}], "mark": {"type": "errorbar", "ticks": {"size": 8}, "thickness": 1.5}, "encoding": {"yError": {"field": "sd"}}}
    ]
   },
   {"width": 222, "height": 236,
    "transform": [{"filter": "datum.tnp === 'high' && datum.assay === 'C4b'"}],
    "encoding": {
      "x": {"field": "conc", "type": "quantitative", "scale": {"type": "log", "domain": [0.1, 20]}, "axis": {"values": [0.1, 1, 10], "labels": false, "title": null}},
      "y": {"field": "od", "type": "quantitative", "scale": {"domain": [0, 0.5]}, "axis": {"values": [0, 0.1, 0.2, 0.3, 0.4, 0.5], "labels": false, "title": null}},
      "color": {"field": "antibody", "type": "nominal", "scale": {"domain": ["anti-TNP IGHG1*03", "anti-TNP IGHG1*03-A378S", "anti-TNP IGHG2*01", "anti-TNP IGHG2*06", "anti-TNP IGHG3*01", "anti-TNP IGHG3*04"], "range": ["#000000", "#6e6e6e", "#1a8fff", "#0d4384", "#ff1500", "#e99a80"]}, "legend": {"title": null, "orient": "none", "legendX": 768, "legendY": -22, "encode": {"symbols": {"update": {"fill": {"scale": "color", "field": "value"}, "stroke": {"scale": "color", "field": "value"}, "opacity": {"value": 1}}}}}}
    },
    "layer": [
      {"mark": {"type": "line", "strokeWidth": 1.3}},
      {"mark": {"type": "point", "filled": true, "size": 140, "opacity": 1}},
      {"transform": [{"filter": "datum.sd > 0"}], "mark": {"type": "errorbar", "ticks": {"size": 8}, "thickness": 1.5}, "encoding": {"yError": {"field": "sd"}}}
    ]
   }
  ]
 },
 {"title": {"text": "TNP [very high]", "orient": "left", "anchor": "middle", "fontSize": 22, "fontWeight": "normal", "offset": 40, "dx": 12},
  "spacing": 23,
  "hconcat": [
   {"width": 222, "height": 236,
    "transform": [{"filter": "datum.tnp === 'very high' && datum.assay === 'C1q'"}],
    "encoding": {
      "x": {"field": "conc", "type": "quantitative", "scale": {"type": "log", "domain": [0.1, 20]}, "axis": {"values": [0.1, 1, 10], "format": "~g", "title": "IgG antibody (µg/mL)", "titlePadding": 3, "labelPadding": 5}},
      "y": {"field": "od", "type": "quantitative", "scale": {"domain": [0, 0.5]}, "axis": {"values": [0, 0.1, 0.2, 0.3, 0.4, 0.5], "format": ".1f", "title": "OD₄₅₀", "titlePadding": 5}},
      "color": {"field": "antibody", "type": "nominal", "scale": {"domain": ["anti-TNP IGHG1*03", "anti-TNP IGHG1*03-A378S", "anti-TNP IGHG2*01", "anti-TNP IGHG2*06", "anti-TNP IGHG3*01", "anti-TNP IGHG3*04"], "range": ["#000000", "#6e6e6e", "#1a8fff", "#0d4384", "#ff1500", "#e99a80"]}, "legend": {"title": null, "orient": "none", "legendX": 768, "legendY": -22, "encode": {"symbols": {"update": {"fill": {"scale": "color", "field": "value"}, "stroke": {"scale": "color", "field": "value"}, "opacity": {"value": 1}}}}}}
    },
    "layer": [
      {"mark": {"type": "line", "strokeWidth": 1.3}},
      {"mark": {"type": "point", "filled": true, "size": 140, "opacity": 1}},
      {"transform": [{"filter": "datum.sd > 0"}], "mark": {"type": "errorbar", "ticks": {"size": 8}, "thickness": 1.5}, "encoding": {"yError": {"field": "sd"}}}
    ]
   },
   {"width": 222, "height": 236,
    "transform": [{"filter": "datum.tnp === 'very high' && datum.assay === 'C3b'"}],
    "encoding": {
      "x": {"field": "conc", "type": "quantitative", "scale": {"type": "log", "domain": [0.1, 20]}, "axis": {"values": [0.1, 1, 10], "format": "~g", "title": "IgG antibody (µg/mL)", "titlePadding": 3, "labelPadding": 5}},
      "y": {"field": "od", "type": "quantitative", "scale": {"domain": [0, 0.5]}, "axis": {"values": [0, 0.1, 0.2, 0.3, 0.4, 0.5], "labels": false, "title": null}},
      "color": {"field": "antibody", "type": "nominal", "scale": {"domain": ["anti-TNP IGHG1*03", "anti-TNP IGHG1*03-A378S", "anti-TNP IGHG2*01", "anti-TNP IGHG2*06", "anti-TNP IGHG3*01", "anti-TNP IGHG3*04"], "range": ["#000000", "#6e6e6e", "#1a8fff", "#0d4384", "#ff1500", "#e99a80"]}, "legend": {"title": null, "orient": "none", "legendX": 768, "legendY": -22, "encode": {"symbols": {"update": {"fill": {"scale": "color", "field": "value"}, "stroke": {"scale": "color", "field": "value"}, "opacity": {"value": 1}}}}}}
    },
    "layer": [
      {"mark": {"type": "line", "strokeWidth": 1.3}},
      {"mark": {"type": "point", "filled": true, "size": 140, "opacity": 1}},
      {"transform": [{"filter": "datum.sd > 0"}], "mark": {"type": "errorbar", "ticks": {"size": 8}, "thickness": 1.5}, "encoding": {"yError": {"field": "sd"}}}
    ]
   },
   {"width": 222, "height": 236,
    "transform": [{"filter": "datum.tnp === 'very high' && datum.assay === 'C4b'"}],
    "encoding": {
      "x": {"field": "conc", "type": "quantitative", "scale": {"type": "log", "domain": [0.1, 20]}, "axis": {"values": [0.1, 1, 10], "format": "~g", "title": "IgG antibody (µg/mL)", "titlePadding": 3, "labelPadding": 5}},
      "y": {"field": "od", "type": "quantitative", "scale": {"domain": [0, 0.5]}, "axis": {"values": [0, 0.1, 0.2, 0.3, 0.4, 0.5], "labels": false, "title": null}},
      "color": {"field": "antibody", "type": "nominal", "scale": {"domain": ["anti-TNP IGHG1*03", "anti-TNP IGHG1*03-A378S", "anti-TNP IGHG2*01", "anti-TNP IGHG2*06", "anti-TNP IGHG3*01", "anti-TNP IGHG3*04"], "range": ["#000000", "#6e6e6e", "#1a8fff", "#0d4384", "#ff1500", "#e99a80"]}, "legend": {"title": null, "orient": "none", "legendX": 768, "legendY": -22, "encode": {"symbols": {"update": {"fill": {"scale": "color", "field": "value"}, "stroke": {"scale": "color", "field": "value"}, "opacity": {"value": 1}}}}}}
    },
    "layer": [
      {"mark": {"type": "line", "strokeWidth": 1.3}},
      {"mark": {"type": "point", "filled": true, "size": 140, "opacity": 1}},
      {"transform": [{"filter": "datum.sd > 0"}], "mark": {"type": "errorbar", "ticks": {"size": 8}, "thickness": 1.5}, "encoding": {"yError": {"field": "sd"}}}
    ]
   }
  ]
 }
]
}
